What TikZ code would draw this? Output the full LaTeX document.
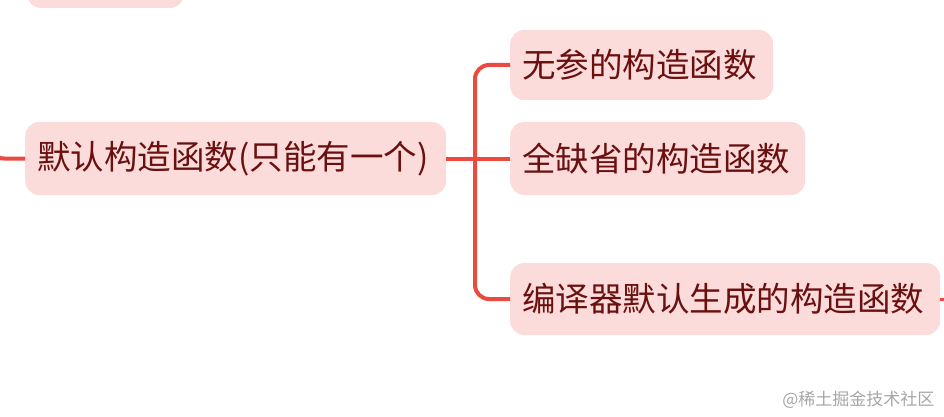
\documentclass[tikz,border=0pt]{standalone}
\usepackage{fontspec}
\setmainfont{Noto Sans CJK SC}
\definecolor{boxfill}{HTML}{FCDCDA}
\definecolor{txt}{HTML}{6A1010}
\definecolor{ln}{HTML}{EB4A40}
\begin{document}
\begin{tikzpicture}[x=1pt,y=-1pt,
  box/.style={fill=boxfill,rounded corners=14pt,text=txt,font=\fontsize{33.5}{36}\selectfont,inner sep=0pt,inner xsep=12pt,align=left,anchor=west},
  conn/.style={draw=ln,line width=4pt,rounded corners=14pt}]
\useasboundingbox (0,0) rectangle (944,417);
\fill[boxfill,rounded corners=14pt] (27,-30) rectangle (184,8);
\node[box,minimum height=73pt,text width=397pt] (m) at (25,158.5) {默认构造函数(只能有一个)};
\node[box,minimum height=70pt,text width=239pt] (a) at (510,65) {无参的构造函数};
\node[box,minimum height=73pt,text width=271pt] (b) at (510,158.5) {全缺省的构造函数};
\node[box,minimum height=72pt,text width=406pt] (c) at (510,299) {编译器默认生成的构造函数};
\draw[conn] (m.east) -- (b.west);
\draw[conn] (a.west) -| (475,158.5) |- (c.west);
\draw[conn] (-10,130) |- (m.west);
\draw[draw=ln,line width=3pt] (c.east) -- (944,299);
\node[text=gray!70,font=\fontsize{17}{18}\selectfont,anchor=east] (w) at (938,400) {@稀土掘金技术社区};
\end{tikzpicture}
\end{document}
